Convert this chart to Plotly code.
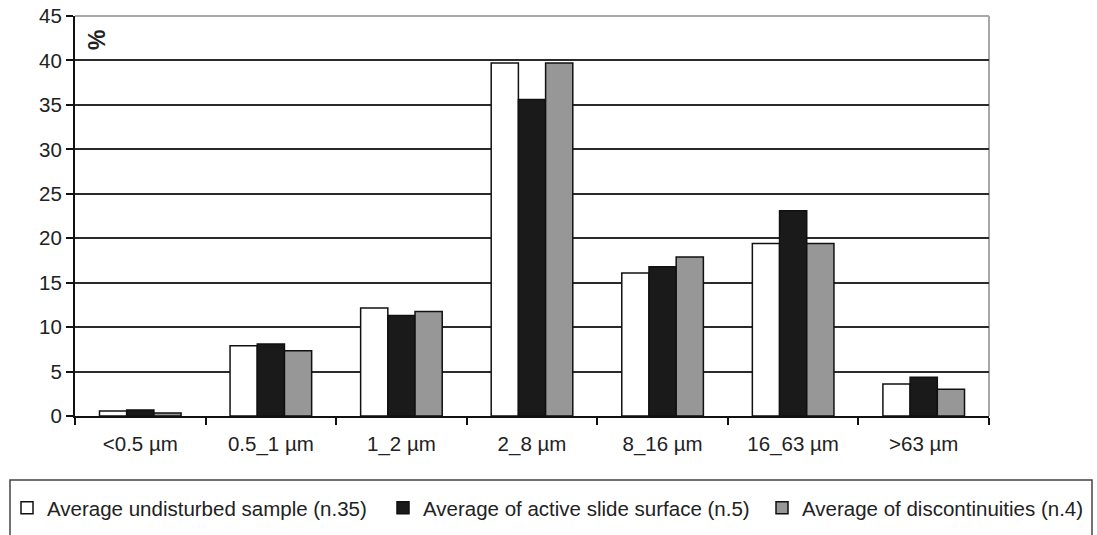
import plotly.graph_objects as go

categories = ["<0.5 µm", "0.5_1 µm", "1_2 µm", "2_8 µm", "8_16 µm", "16_63 µm", ">63 µm"]
undisturbed = [0.56, 7.9, 12.15, 39.7, 16.1, 19.4, 3.6]
active_slide = [0.68, 8.1, 11.3, 35.6, 16.8, 23.1, 4.35]
discontinuities = [0.34, 7.33, 11.75, 39.7, 17.9, 19.4, 3.0]
series_names = [
    "Average undisturbed sample (n.35)",
    "Average of active slide surface (n.5)",
    "Average of discontinuities (n.4)",
]
y_ticks = [0, 5, 10, 15, 20, 25, 30, 35, 40, 45]

W, H = 1097, 535
L, R, T, B = 75, 108, 16, 119
pw, ph = W - L - R, H - T - B

def px_x(x):
    return (x - L) / pw

def px_y(y):
    return (H - B - y) / ph

FONT = "Liberation Sans, Arial, sans-serif"

fig = go.Figure()
colors = ["#ffffff", "#1a1a1a", "#979797"]
legend_ids = ["legend", "legend2", "legend3"]
for name, vals, c, lg in zip(series_names, [undisturbed, active_slide, discontinuities], colors, legend_ids):
    fig.add_trace(go.Bar(
        x=categories, y=vals, name=name, legend=lg,
        marker=dict(color=c, line=dict(color="#111111", width=1.5)),
    ))

def legend_at(text_start_px):
    return dict(
        orientation="h",
        x=px_x(text_start_px - 41), xanchor="left",
        y=px_y(508), yanchor="middle",
        font=dict(size=20.5, family=FONT, color="#222222"),
        bgcolor="rgba(0,0,0,0)",
    )

fig.update_layout(
    width=W, height=H,
    margin=dict(l=L, r=R, t=T, b=B, autoexpand=False),
    paper_bgcolor="white", plot_bgcolor="white",
    barmode="group", bargap=0.375, bargroupgap=0,
    font=dict(family=FONT, color="#222222"),
    showlegend=True,
    legend=legend_at(48),
    legend2=legend_at(424),
    legend3=legend_at(803),
    xaxis=dict(
        showline=True, linecolor="#111111", linewidth=2,
        ticks="outside", tickson="boundaries", ticklen=7, tickcolor="#111111", tickwidth=1.5,
        tickfont=dict(size=20.5, family=FONT, color="#222222"),
        ticklabelstandoff=8,
        showgrid=False,
    ),
    yaxis=dict(
        range=[0, 45], tickvals=y_ticks,
        showline=True, linecolor="#111111", linewidth=2,
        ticks="outside", ticklen=7, tickcolor="#111111", tickwidth=1.5,
        tickfont=dict(size=20.5, family=FONT, color="#222222"),
        showgrid=True, gridcolor="#2a2a2a", gridwidth=1.8,
        zeroline=False,
    ),
    shapes=[
        dict(type="line", xref="paper", yref="paper", x0=0, x1=1, y0=1, y1=1,
             line=dict(color="#a8a8a8", width=2), layer="above"),
        dict(type="line", xref="paper", yref="paper", x0=1, x1=1, y0=0, y1=1,
             line=dict(color="#a8a8a8", width=2), layer="below"),
        dict(type="rect", xref="paper", yref="paper",
             x0=px_x(10), x1=px_x(1092), y0=px_y(480), y1=px_y(560),
             line=dict(color="#444444", width=1.5), fillcolor="rgba(0,0,0,0)"),
    ],
    annotations=[
        dict(text="<b>%</b>", xref="paper", yref="paper",
             x=px_x(97), y=px_y(40), xanchor="center", yanchor="middle",
             showarrow=False, textangle=-90,
             font=dict(size=23, family=FONT, color="#222222")),
    ],
)

fig.write_html(
    "out.html",
    config={"displayModeBar": False},
    post_script="document.body.style.margin='0';document.body.style.overflow='hidden';",
)
